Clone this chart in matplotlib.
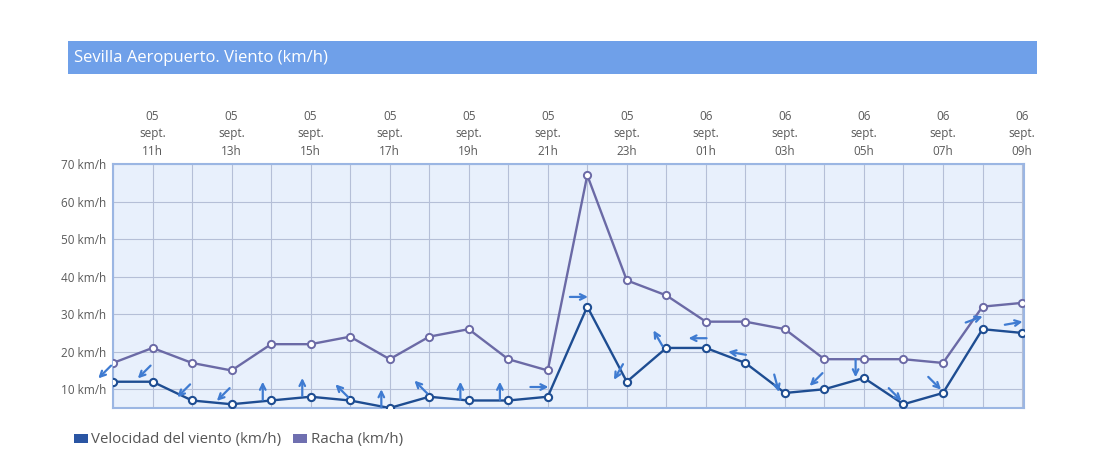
import matplotlib
matplotlib.use("Agg")
import matplotlib.pyplot as plt
import numpy as np
from matplotlib.transforms import offset_copy, blended_transform_factory
from matplotlib.patches import Rectangle

plt.rcParams['font.family'] = ['Open Sans', 'DejaVu Sans']

hours = ["10h", "11h", "12h", "13h", "14h", "15h", "16h", "17h", "18h", "19h", "20h", "21h",
         "22h", "23h", "00h", "01h", "02h", "03h", "04h", "05h", "06h", "07h", "08h", "09h"]
days = ["05"] * 14 + ["06"] * 10
velocidad = [12, 12, 7, 6, 7, 8, 7, 5, 8, 7, 7, 8, 32, 12, 21, 21, 17, 9, 10, 13, 6, 9, 26, 25]
racha = [17, 21, 17, 15, 22, 22, 24, 18, 24, 26, 18, 15, 67, 39, 35, 28, 28, 26, 18, 18, 18, 17, 32, 33]
# direction the arrow points (degrees, 0 = right, 90 = up)
arrow_dir = [225, 225, 225, 225, 90, 90, 135, 90, 135, 90, 90, 0,
             0, 240, 120, 180, 170, 285, 225, 270, 315, 315, 20, 10]
yticks = [10, 20, 30, 40, 50, 60, 70]

W, H = 1119, 471
fig = plt.figure(figsize=(W / 100, H / 100), dpi=100)
fig.patch.set_facecolor('white')

# title bar
fig.patches.append(Rectangle((68 / W, 1 - 74 / H), (1037 - 68) / W, 33 / H,
                             transform=fig.transFigure, facecolor='#6fa0e9', edgecolor='none'))
fig.text(74 / W, 1 - 58 / H, "Sevilla Aeropuerto. Viento (km/h)", color='white',
         fontsize=12, va='center', ha='left')

ax = fig.add_axes([113 / W, 63 / H, (1024 - 113) / W, (408 - 164) / H])
ax.set_facecolor('#e8f0fc')
x = np.arange(len(hours))
ax.set_xlim(0, 23.05)
ax.set_ylim(5, 70)

ax.set_xticks(x)
ax.set_yticks(yticks)
ax.grid(True, color='#b5bfd7', linewidth=0.8)
ax.set_axisbelow(True)
ax.tick_params(axis='x', length=0, labelbottom=False)
ax.tick_params(axis='y', length=0, labelsize=8.5, labelcolor='#5a5a5a', pad=5)
ax.set_yticklabels([f"{v} km/h" for v in yticks])
for s in ax.spines.values():
    s.set_color('#9bb6e3')
    s.set_linewidth(1.5)

ax.plot(x, racha, color='#6b6aa6', linewidth=1.7, marker='o', markersize=5.2,
        markerfacecolor='white', markeredgecolor='#6b6aa6', markeredgewidth=1.4, zorder=3)
ax.plot(x, velocidad, color='#1e4d92', linewidth=1.7, marker='o', markersize=5.2,
        markerfacecolor='white', markeredgecolor='#1e4d92', markeredgewidth=1.5, zorder=4)

# wind direction arrows
L = 6.5  # half-length in points
cx, cy = -6.0, 7.0
for xi, yi, d in zip(x, velocidad, arrow_dir):
    a = np.deg2rad(d)
    dx, dy = np.cos(a) * L, np.sin(a) * L
    head = offset_copy(ax.transData, fig=fig, x=cx + dx, y=cy + dy, units='points')
    tail = offset_copy(ax.transData, fig=fig, x=cx - dx, y=cy - dy, units='points')
    ax.annotate('', xy=(xi, yi), xycoords=head, xytext=(xi, yi), textcoords=tail,
                arrowprops=dict(arrowstyle='->', color='#3f7bd1', lw=1.6,
                                shrinkA=0, shrinkB=0, mutation_scale=10),
                zorder=5, annotation_clip=False)

# top labels
tr = blended_transform_factory(ax.transData, ax.transAxes)
for i in range(1, len(hours), 2):
    ax.text(x[i], 1.025, f"{days[i]}\nsept.\n{hours[i]}", transform=tr, ha='center',
            va='bottom', fontsize=8.5, color='#5a5a5a', linespacing=1.47)

# legend
fig.patches.append(Rectangle((74 / W, 1 - 443 / H), 14 / W, 9 / H, transform=fig.transFigure,
                             facecolor='#2a55a3', edgecolor='none'))
fig.text(91 / W, 1 - 439 / H, "Velocidad del viento (km/h)", fontsize=10.8, color='#555555',
         va='center', ha='left')
fig.patches.append(Rectangle((293 / W, 1 - 443 / H), 14 / W, 9 / H, transform=fig.transFigure,
                             facecolor='#6f6fb0', edgecolor='none'))
fig.text(311 / W, 1 - 439 / H, "Racha (km/h)", fontsize=10.8, color='#555555',
         va='center', ha='left')

fig.savefig('out.png', dpi=100)
